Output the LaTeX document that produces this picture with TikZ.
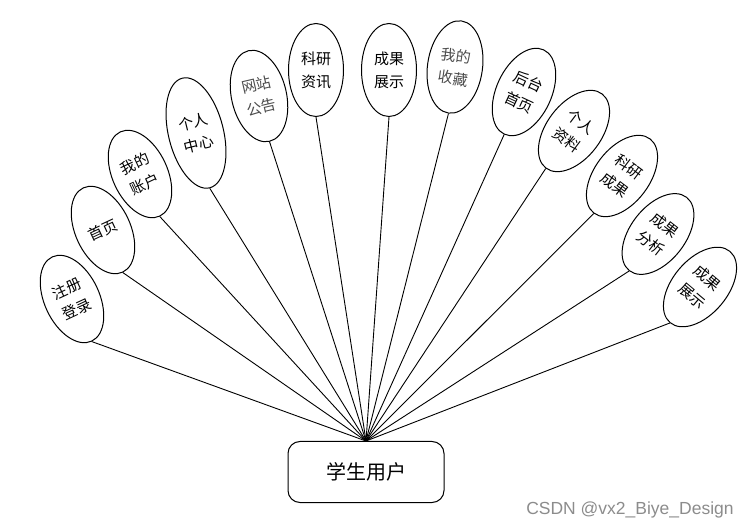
\documentclass[tikz,border=0pt]{standalone}
\usepackage{fontspec}
\newfontfamily\cjk{Noto Sans CJK SC}
\newfontfamily\wm{Liberation Sans}
\usetikzlibrary{shapes.geometric}
\begin{document}
\begin{tikzpicture}[x=1pt,y=-1pt,
  oval/.style={ellipse, draw, line width=1pt, inner sep=0pt, minimum width=55pt, minimum height=93pt, align=center, font=\cjk\fontsize{15}{23}\selectfont},
  link/.style={line width=0.9pt},
  userbox/.style={draw, rounded corners=12pt, line width=1pt, minimum width=156pt, minimum height=61pt, font=\cjk\fontsize{20}{24}\selectfont}]
\useasboundingbox (0,0) rectangle (753,529);
\node[userbox] (user) at (366,472) {学生用户};
\node[oval, rotate=25] (e1) at (72,299) {注册\\登录};
\node[oval, rotate=25] (e2) at (103,230) {首页};
\node[oval, rotate=25] (e3) at (140,174) {我的\\账户};
\node[oval, rotate=14, minimum height=113pt] (e4) at (196,133) {个人\\中心};
\node[oval, rotate=13, text=black!70] (e5) at (259,96) {网站\\公告};
\node[oval, rotate=0] (e6) at (316,70) {科研\\资讯};
\node[oval, rotate=0] (e7) at (389,70) {成果\\展示};
\node[oval, rotate=-8, text=black!70] (e8) at (455,67) {我的\\收藏};
\node[oval, rotate=-25] (e9) at (524,92) {后台\\首页};
\node[oval, rotate=-37] (e10) at (574,131) {个人\\资料};
\node[oval, rotate=-37] (e11) at (622,176) {科研\\成果};
\node[oval, rotate=-38] (e12) at (658,234) {成果\\分析};
\node[oval, rotate=-40] (e13) at (700,287) {成果\\展示};
\foreach \i in {1,...,13} \draw[link] (e\i.south) -- (user.north);
\node[font=\wm\fontsize{17.5}{20}\selectfont, text=black!45] (wm) at (630,510) {CSDN @vx2\_Biye\_Design};
\end{tikzpicture}
\end{document}
